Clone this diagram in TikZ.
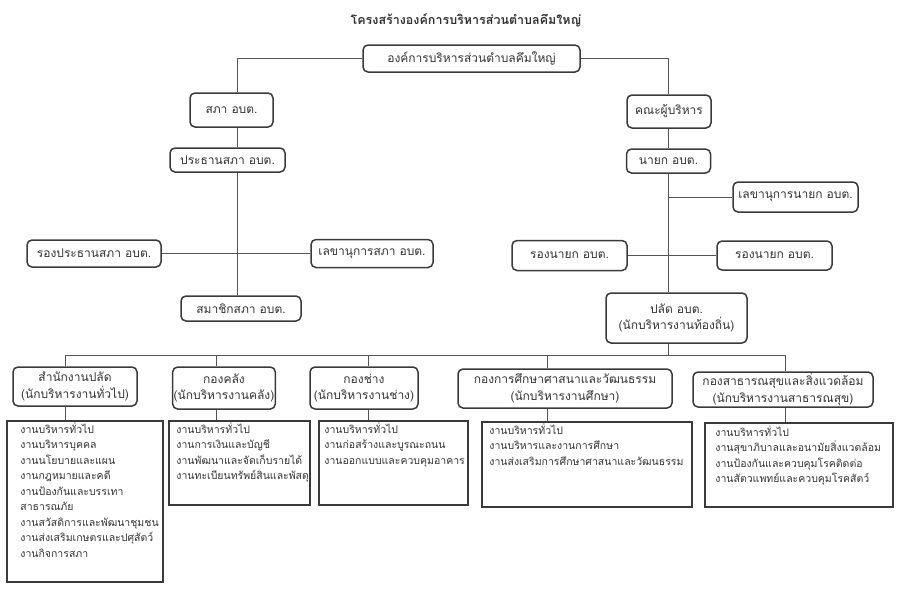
\documentclass[tikz,border=0pt]{standalone}
\usepackage{fontspec}
\setmainfont[Script=Thai]{Loma}
\definecolor{boxc}{HTML}{3A3A3A}
\definecolor{linec}{HTML}{555555}
\definecolor{txt}{HTML}{333333}
\begin{document}
\begin{tikzpicture}[x=1pt,y=-1pt,
  wh/.style 2 args={minimum width=#1pt, minimum height=#2pt},
  box/.style={draw=boxc, line width=1.5pt, rounded corners=5pt, inner sep=1pt, align=center, text=txt, font=\fontsize{12}{16.5}\selectfont},
  listbox/.style={draw=boxc, line width=1.6pt, inner sep=0pt},
  listtext/.style={anchor=north west, align=left, inner sep=0pt, text=txt, font=\fontsize{10.5}{15.5}\selectfont},
  conn/.style={draw=linec, line width=0.8pt}]
\useasboundingbox (0,0) rectangle (900,590);
% title
\node[text=txt, font=\fontsize{12.5}{15}\selectfont\bfseries] (title) at (466,20) {โครงสร้างองค์การบริหารส่วนตำบลคึมใหญ่};
% top
\node[box, wh={217}{27}] (top) at (471.5,58.5) {องค์การบริหารส่วนตำบลคึมใหญ่};
% left branch
\node[box, wh={83}{34}] (sapha) at (231.5,110) {สภา อบต.};
\node[box, wh={115}{24}] (prathan) at (227.5,160) {ประธานสภา อบต.};
\node[box, wh={134}{27}] (rongprathan) at (94,253.5) {รองประธานสภา อบต.};
\node[box, wh={122}{28}] (lekhasapha) at (372,253.5) {เลขานุการสภา อบต.};
\node[box, wh={120}{25}] (samachik) at (241,308.5) {สมาชิกสภา อบต.};
% right branch
\node[box, wh={84}{33}] (khana) at (669,111.5) {คณะผู้บริหาร};
\node[box, wh={84}{24}] (nayok) at (668.5,161) {นายก อบต.};
\node[box, wh={125}{30}] (lekhanayok) at (795.5,197) {เลขานุการนายก อบต.};
\node[box, wh={115}{30}] (rong1) at (569.5,255.5) {รองนายก อบต.};
\node[box, wh={115}{29}] (rong2) at (774.5,255.5) {รองนายก อบต.};
\node[box, wh={141}{50}] (palat) at (676.5,318) {ปลัด อบต.\\(นักบริหารงานท้องถิ่น)};
% divisions
\node[box, wh={124}{39}] (d1) at (75,386.5) {สำนักงานปลัด\\(นักบริหารงานทั่วไป)};
\node[box, wh={96}{42}] (d2) at (224,388) {กองคลัง\\(นักบริหารงานคลัง)};
\node[box, wh={108}{42}] (d3) at (364,388) {กองช่าง\\(นักบริหารงานช่าง)};
\node[box, wh={214}{39}] (d4) at (565,388.5) {กองการศึกษาศาสนาและวัฒนธรรม\\(นักบริหารงานศึกษา)};
\node[box, wh={180}{35}] (d5) at (783,389.5) {กองสาธารณสุขและสิ่งแวดล้อม\\(นักบริหารงานสาธารณสุข)};
% list boxes
\node[listbox, wh={156}{161}] (l1) at (85,501.5) {};
\node[listbox, wh={141}{84}] (l2) at (239.5,463) {};
\node[listbox, wh={149}{84}] (l3) at (393.5,463) {};
\node[listbox, wh={210}{85}] (l4) at (587,464.5) {};
\node[listbox, wh={188}{84}] (l5) at (799,465) {};
\node[listtext] (t1) at ([xshift=14pt,yshift=-2pt]l1.north west) {งานบริหารทั่วไป\\งานบริหารบุคคล\\งานนโยบายและแผน\\งานกฎหมายและคดี\\งานป้องกันและบรรเทา\\สาธารณภัย\\งานสวัสดิการและพัฒนาชุมชน\\งานส่งเสริมเกษตรและปศุสัตว์\\งานกิจการสภา};
\begin{scope}
\clip (l2.north west) rectangle (l2.south east);
\node[listtext] (t2) at ([xshift=8pt,yshift=-2pt]l2.north west) {งานบริหารทั่วไป\\งานการเงินและบัญชี\\งานพัฒนาและจัดเก็บรายได้\\งานทะเบียนทรัพย์สินและพัสดุ};
\end{scope}
\node[listtext] (t3) at ([xshift=6pt,yshift=-2pt]l3.north west) {งานบริหารทั่วไป\\งานก่อสร้างและบูรณะถนน\\งานออกแบบและควบคุมอาคาร};
\node[listtext] (t4) at ([xshift=8pt,yshift=-2pt]l4.north west) {งานบริหารทั่วไป\\งานบริหารและงานการศึกษา\\งานส่งเสริมการศึกษาศาสนาและวัฒนธรรม};
\node[listtext] (t5) at ([xshift=11pt,yshift=-3pt]l5.north west) {งานบริหารทั่วไป\\งานสุขาภิบาลและอนามัยสิ่งแวดล้อม\\งานป้องกันและควบคุมโรคติดต่อ\\งานสัตวแพทย์และควบคุมโรคสัตว์};
% coordinates
\coordinate (lx) at (237,0);
\coordinate (rx) at (668,0);
\coordinate (c1) at (65,355);
\coordinate (c2) at (216,355);
\coordinate (c3) at (368,355);
\coordinate (c4) at (547,355);
\coordinate (c5) at (785,355);
% connectors left
\draw[conn] (top.west) -| (sapha.north -| lx);
\draw[conn] (sapha.south -| lx) -- (prathan.north -| lx);
\draw[conn] (prathan.south -| lx) -- (samachik.north -| lx);
\draw[conn] (rongprathan.east) -- (lekhasapha.west);
% connectors right
\draw[conn] (top.east) -| (khana.north -| rx);
\draw[conn] (khana.south -| rx) -- (nayok.north -| rx);
\draw[conn] (nayok.south -| rx) -- (palat.north -| rx);
\draw[conn] (lekhanayok.west -| rx) -- (lekhanayok.west);
\draw[conn] (rong1.east) -- (rong2.west);
\draw[conn] (palat.south -| rx) -- (c1 -| rx);
% bus
\draw[conn] (c1) -- (c5);
\foreach \i in {1,...,5}{
  \draw[conn] (c\i) -- (d\i.north -| c\i);
  \draw[conn] (d\i.south -| c\i) -- (l\i.north -| c\i);
}
\end{tikzpicture}
\end{document}
